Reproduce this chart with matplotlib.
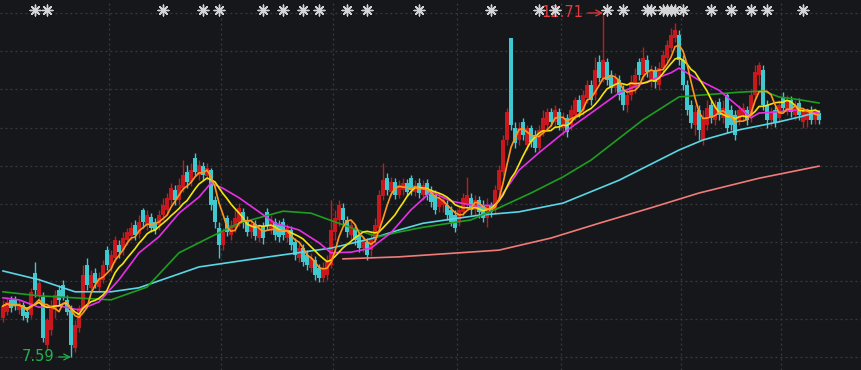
import matplotlib
matplotlib.use('Agg')
import matplotlib.pyplot as plt
import numpy as np
import pandas as pd

# daily candles (price)
opens = [8.17, 8.26, 8.44, 8.45, 8.29, 8.36, 8.26, 8.21, 8.84, 8.51,
         8.48, 7.77, 7.99, 8.29, 8.59, 8.66, 8.44, 8.29, 7.72, 8.02,
         8.32, 8.96, 8.62, 8.84, 8.63, 8.74, 9.18, 8.91, 9.06, 9.26,
         9.18, 9.33, 9.39, 9.55, 9.42, 9.78, 9.55, 9.67, 9.60, 9.55,
         9.70, 9.78, 9.93, 10.08, 9.93, 10.10, 10.34, 10.19, 10.55, 10.30,
         10.43, 10.28, 10.37, 9.93, 9.51, 9.26, 9.66, 9.41, 9.51, 9.60,
         9.75, 9.63, 9.45, 9.57, 9.36, 9.54, 9.75, 9.48, 9.60, 9.55,
         9.60, 9.36, 9.48, 9.30, 9.06, 9.21, 9.11, 8.91, 9.03, 8.91,
         8.77, 8.81, 8.96, 9.45, 9.63, 9.81, 9.63, 9.41, 9.51, 9.39,
         9.21, 9.30, 9.18, 9.33, 9.51, 9.99, 10.25, 10.05, 10.19, 10.00,
         10.08, 10.18, 10.25, 10.05, 10.18, 10.00, 10.18, 10.08, 10.00, 9.82,
         9.85, 9.85, 9.78, 9.70, 9.60, 9.75, 9.85, 9.96, 9.78, 9.93,
         9.85, 9.66, 9.85, 9.78, 10.08, 10.34, 10.82, 12.34, 11.00, 10.82,
         11.09, 10.74, 11.00, 10.89, 10.70, 10.94, 11.04, 11.24, 11.09, 11.24,
         11.00, 11.15, 11.04, 11.19, 11.42, 11.27, 11.44, 11.64, 11.49, 11.98,
         11.74, 11.98, 11.79, 11.59, 11.71, 11.56, 11.34, 11.49, 11.59, 11.98,
         11.79, 12.01, 11.71, 11.86, 11.64, 11.89, 12.04, 12.19, 12.34, 12.38,
         12.01, 11.64, 11.34, 11.04, 11.27, 10.82, 11.04, 11.34, 11.12, 11.39,
         11.15, 11.49, 11.27, 11.19, 11.12, 11.19, 11.27, 11.15, 11.49, 11.79,
         11.86, 11.34, 11.12, 11.27, 11.15, 11.46, 11.27, 11.42, 11.19, 11.37,
         11.09, 11.12, 11.27, 11.12, 11.22]
highs = [8.44, 8.48, 8.50, 8.50, 8.44, 8.41, 8.30, 8.62, 9.00, 8.77,
         8.56, 8.17, 8.44, 8.59, 8.66, 8.74, 8.51, 8.36, 8.14, 8.36,
         8.96, 9.06, 8.88, 8.91, 8.85, 9.03, 9.24, 9.18, 9.39, 9.33,
         9.45, 9.51, 9.60, 9.63, 9.70, 9.81, 9.78, 9.73, 9.66, 9.78,
         9.96, 10.03, 10.18, 10.15, 10.25, 10.52, 10.45, 10.48, 10.63, 10.52,
         10.49, 10.48, 10.40, 9.99, 9.60, 9.51, 9.70, 9.63, 9.78, 9.88,
         9.81, 9.69, 9.63, 9.63, 9.57, 9.60, 9.81, 9.70, 9.66, 9.63,
         9.66, 9.57, 9.54, 9.36, 9.27, 9.27, 9.18, 9.14, 9.09, 8.97,
         9.00, 9.11, 9.93, 9.78, 9.93, 9.88, 9.69, 9.63, 9.57, 9.45,
         9.39, 9.36, 9.45, 9.66, 10.08, 10.48, 10.33, 10.27, 10.25, 10.22,
         10.25, 10.24, 10.30, 10.22, 10.25, 10.22, 10.24, 10.13, 10.08, 10.03,
         10.00, 9.93, 9.84, 9.78, 9.85, 10.03, 10.27, 10.03, 10.00, 9.99,
         9.93, 9.96, 9.90, 10.15, 10.45, 10.89, 11.30, 12.34, 11.09, 11.09,
         11.15, 11.04, 11.04, 10.97, 11.04, 11.27, 11.30, 11.30, 11.34, 11.30,
         11.24, 11.21, 11.34, 11.46, 11.49, 11.56, 11.71, 11.71, 12.06, 12.08,
         12.71, 12.04, 11.86, 11.82, 11.79, 11.64, 11.59, 11.79, 11.89, 12.04,
         12.20, 12.08, 11.94, 11.92, 11.98, 12.16, 12.31, 12.49, 12.56, 12.46,
         12.08, 11.71, 11.42, 11.34, 11.34, 11.27, 11.42, 11.42, 11.42, 11.44,
         11.42, 11.52, 11.34, 11.27, 11.34, 11.37, 11.33, 11.56, 11.94, 11.98,
         11.94, 11.42, 11.31, 11.33, 11.42, 11.53, 11.49, 11.47, 11.42, 11.44,
         11.30, 11.30, 11.33, 11.30, 11.27]
lows = [8.11, 8.21, 8.26, 8.29, 8.23, 8.14, 8.11, 8.17, 8.48, 8.44,
        7.81, 7.69, 7.92, 8.17, 8.36, 8.44, 8.21, 7.59, 7.66, 7.96,
        8.26, 8.59, 8.56, 8.62, 8.56, 8.69, 8.88, 8.85, 9.00, 9.06,
        9.11, 9.26, 9.33, 9.33, 9.36, 9.51, 9.48, 9.45, 9.42, 9.48,
        9.63, 9.70, 9.85, 9.85, 9.85, 10.05, 10.10, 10.13, 10.28, 10.22,
        10.22, 10.22, 9.78, 9.51, 9.06, 9.18, 9.39, 9.33, 9.45, 9.54,
        9.51, 9.39, 9.36, 9.33, 9.30, 9.27, 9.48, 9.42, 9.33, 9.30,
        9.33, 9.30, 9.18, 9.03, 9.00, 8.94, 8.88, 8.85, 8.74, 8.71,
        8.71, 8.74, 8.91, 9.33, 9.54, 9.54, 9.38, 9.33, 9.26, 9.15,
        9.15, 9.03, 9.09, 9.27, 9.45, 9.93, 10.00, 9.99, 9.94, 9.96,
        10.00, 9.99, 10.00, 9.99, 9.96, 9.93, 9.93, 9.82, 9.72, 9.75,
        9.75, 9.63, 9.54, 9.45, 9.54, 9.69, 9.78, 9.70, 9.70, 9.66,
        9.60, 9.52, 9.67, 9.72, 10.00, 10.30, 10.74, 10.97, 10.70, 10.74,
        10.82, 10.67, 10.72, 10.64, 10.64, 10.88, 11.00, 11.03, 11.03, 10.97,
        10.89, 10.86, 10.97, 11.12, 11.16, 11.19, 11.37, 11.34, 11.42, 11.68,
        11.68, 11.64, 11.52, 11.53, 11.42, 11.27, 11.24, 11.42, 11.52, 11.71,
        11.71, 11.76, 11.61, 11.59, 11.56, 11.82, 11.98, 12.13, 12.28, 11.94,
        11.56, 11.19, 11.00, 10.89, 10.82, 10.74, 10.97, 11.07, 11.04, 11.12,
        11.07, 10.92, 10.97, 10.82, 11.04, 11.12, 11.04, 11.09, 11.42, 11.64,
        11.27, 11.00, 11.03, 11.01, 11.09, 11.24, 11.19, 11.16, 11.12, 11.12,
        11.00, 11.01, 11.06, 11.06, 11.06]
closes = [8.35, 8.41, 8.32, 8.35, 8.39, 8.20, 8.17, 8.56, 8.59, 8.69,
          7.87, 8.14, 8.36, 8.51, 8.44, 8.48, 8.26, 7.77, 8.07, 8.32,
          8.81, 8.66, 8.81, 8.69, 8.77, 8.96, 8.96, 9.11, 9.33, 9.15,
          9.36, 9.45, 9.51, 9.41, 9.60, 9.60, 9.70, 9.51, 9.48, 9.70,
          9.85, 9.96, 10.10, 9.93, 10.15, 10.30, 10.19, 10.37, 10.34, 10.45,
          10.30, 10.40, 9.85, 9.60, 9.26, 9.45, 9.45, 9.55, 9.66, 9.81,
          9.60, 9.45, 9.57, 9.39, 9.51, 9.36, 9.54, 9.63, 9.41, 9.38,
          9.41, 9.51, 9.26, 9.11, 9.21, 9.00, 8.96, 9.06, 8.81, 8.77,
          8.91, 9.00, 9.48, 9.66, 9.85, 9.63, 9.45, 9.55, 9.33, 9.21,
          9.33, 9.11, 9.36, 9.55, 10.00, 10.22, 10.08, 10.19, 10.00, 10.15,
          10.18, 10.05, 10.08, 10.15, 10.03, 10.15, 10.00, 9.90, 9.78, 9.96,
          9.93, 9.70, 9.60, 9.51, 9.78, 9.96, 10.00, 9.78, 9.93, 9.75,
          9.66, 9.85, 9.75, 10.08, 10.37, 10.82, 11.24, 11.04, 10.77, 11.00,
          10.89, 11.00, 10.79, 10.70, 10.97, 11.15, 11.24, 11.09, 11.27, 11.04,
          11.15, 10.94, 11.27, 11.42, 11.24, 11.49, 11.64, 11.42, 11.86, 11.74,
          12.01, 11.71, 11.59, 11.74, 11.49, 11.34, 11.49, 11.68, 11.79, 11.79,
          12.04, 11.83, 11.86, 11.68, 11.89, 12.08, 12.23, 12.38, 12.46, 12.01,
          11.64, 11.27, 11.07, 11.24, 10.97, 11.15, 11.30, 11.15, 11.34, 11.19,
          11.30, 11.00, 11.04, 10.89, 11.27, 11.30, 11.12, 11.49, 11.83, 11.94,
          11.34, 11.12, 11.24, 11.09, 11.34, 11.30, 11.42, 11.24, 11.34, 11.19,
          11.24, 11.24, 11.12, 11.22, 11.12]

# longer moving averages at some candle indices
ma20_idx = [0, 4, 9, 14, 19, 24, 29, 34, 39, 44, 49, 52, 55, 59, 64, 68, 74, 79, 82, 87,
            92, 97, 102, 107, 112, 118, 123, 129, 134, 140, 147, 154, 162, 167, 169, 174,
            179, 184, 187, 189, 194, 199, 204]
ma20_val = [8.47, 8.44, 8.33, 8.35, 8.29, 8.41, 8.74, 9.14, 9.38, 9.73, 9.97, 10.18, 10.10,
            9.96, 9.75, 9.58, 9.48, 9.29, 9.14, 9.15, 9.21, 9.44, 9.78, 10.05, 9.91, 9.84,
            9.85, 10.37, 10.63, 10.92, 11.22, 11.52, 11.71, 11.82, 11.89, 11.71, 11.56,
            11.31, 11.15, 11.22, 11.24, 11.27, 11.22]
ma60_idx = [0, 9, 18, 27, 36, 44, 52, 59, 70, 77, 83, 92, 94, 99, 105, 117, 124, 132, 140,
            147, 160, 169, 175, 184, 190, 194, 199, 204]
ma60_val = [8.56, 8.50, 8.47, 8.44, 8.63, 9.14, 9.38, 9.58, 9.76, 9.73, 9.60, 9.41, 9.38,
            9.45, 9.52, 9.63, 9.81, 10.03, 10.27, 10.52, 11.12, 11.46, 11.49, 11.53, 11.55,
            11.46, 11.42, 11.37]
ma120_idx = [0, 9, 18, 27, 34, 49, 64, 70, 82, 92, 99, 105, 119, 129, 140, 154, 164, 169,
             175, 184, 194, 199, 204]
ma120_val = [8.87, 8.74, 8.56, 8.56, 8.62, 8.93, 9.06, 9.11, 9.21, 9.35, 9.48, 9.58, 9.70,
             9.75, 9.88, 10.22, 10.52, 10.67, 10.82, 10.97, 11.09, 11.16, 11.24]
ma250_idx = [85, 99, 114, 124, 137, 149, 162, 174, 189, 204]
ma250_val = [9.05, 9.08, 9.14, 9.18, 9.36, 9.58, 9.81, 10.03, 10.25, 10.43]

# candles carrying a note marker on top
note_idx = [8, 11, 40, 50, 54, 65, 70, 75, 79, 86, 91, 104, 122, 134, 138, 151, 155, 161,
            162, 165, 166, 167, 168, 170, 177, 182, 187, 191, 200]
# first candle of each month
month_start = [27, 55, 83, 114, 140, 170, 195]

bg = '#16171b'
up_col = '#c8181e'
down_col = '#3ec8cf'

n = len(closes)
x = np.arange(n)
o = np.array(opens)
c = np.array(closes)
close_s = pd.Series(closes)
ma5 = close_s.rolling(5, min_periods=1).mean()
ma10 = close_s.rolling(10, min_periods=1).mean()

fig = plt.figure(figsize=(8.62, 3.70), dpi=100)
fig.patch.set_facecolor(bg)
ax = fig.add_axes([0, 0, 1, 1])
ax.set_facecolor(bg)

lo, hi = min(lows), max(highs)
for v in np.linspace(lo, hi, 10):
    ax.axhline(v, color='#3a3b41', lw=0.9, ls=(0, (1.5, 2.5)), zorder=0)
for m in month_start:
    ax.axvline(m - 0.5, color='#3a3b41', lw=0.9, ls=(0, (1.5, 2.5)), zorder=0)

up = c >= o
cols = np.where(up, up_col, down_col)
ax.vlines(x, lows, highs, colors=cols, lw=1.0, zorder=2)
body = np.maximum(np.abs(c - o), 0.012)
ax.bar(x, body, bottom=np.minimum(o, c), width=0.8, color=cols, lw=0, zorder=3)

ax.plot(ma250_idx, ma250_val, color='#f07b78', lw=1.2, zorder=4)
ax.plot(ma120_idx, ma120_val, color='#5ad6e4', lw=1.2, zorder=4)
ax.plot(ma60_idx, ma60_val, color='#1e9e1e', lw=1.2, zorder=4)
ax.plot(ma20_idx, ma20_val, color='#e62fe6', lw=1.2, zorder=5)
ax.plot(x, ma10, color='#f4e40c', lw=1.2, zorder=6)
ax.plot(x, ma5, color='#ff971c', lw=1.2, zorder=6)

# highest / lowest price labels
i_hi = int(np.argmax(highs))
i_lo = int(np.argmin(lows))
ax.annotate(f'{hi:.2f}', xy=(i_hi, hi), xytext=(-14, 0), textcoords='offset points',
            ha='right', va='center', color='#e23a3f', fontsize=10.5,
            arrowprops=dict(arrowstyle='->', color='#e23a3f', lw=0.9,
                            shrinkA=1, shrinkB=0))
ax.annotate(f'{lo:.2f}', xy=(i_lo, lo), xytext=(-12, 0), textcoords='offset points',
            ha='right', va='center', color='#23b14d', fontsize=10.5,
            arrowprops=dict(arrowstyle='->', color='#23b14d', lw=0.9,
                            shrinkA=1, shrinkB=0))

trans = ax.get_xaxis_transform()
ax.scatter(note_idx, [0.972] * len(note_idx), transform=trans, marker=(8, 2, 0),
           s=60, color='#d4d4d6', lw=1.0, zorder=7, clip_on=False)

ax.set_xlim(-0.75, 214.75)
ax.set_ylim(7.396, 12.903)
ax.axis('off')

fig.savefig('out.png', dpi=100, facecolor=bg)
